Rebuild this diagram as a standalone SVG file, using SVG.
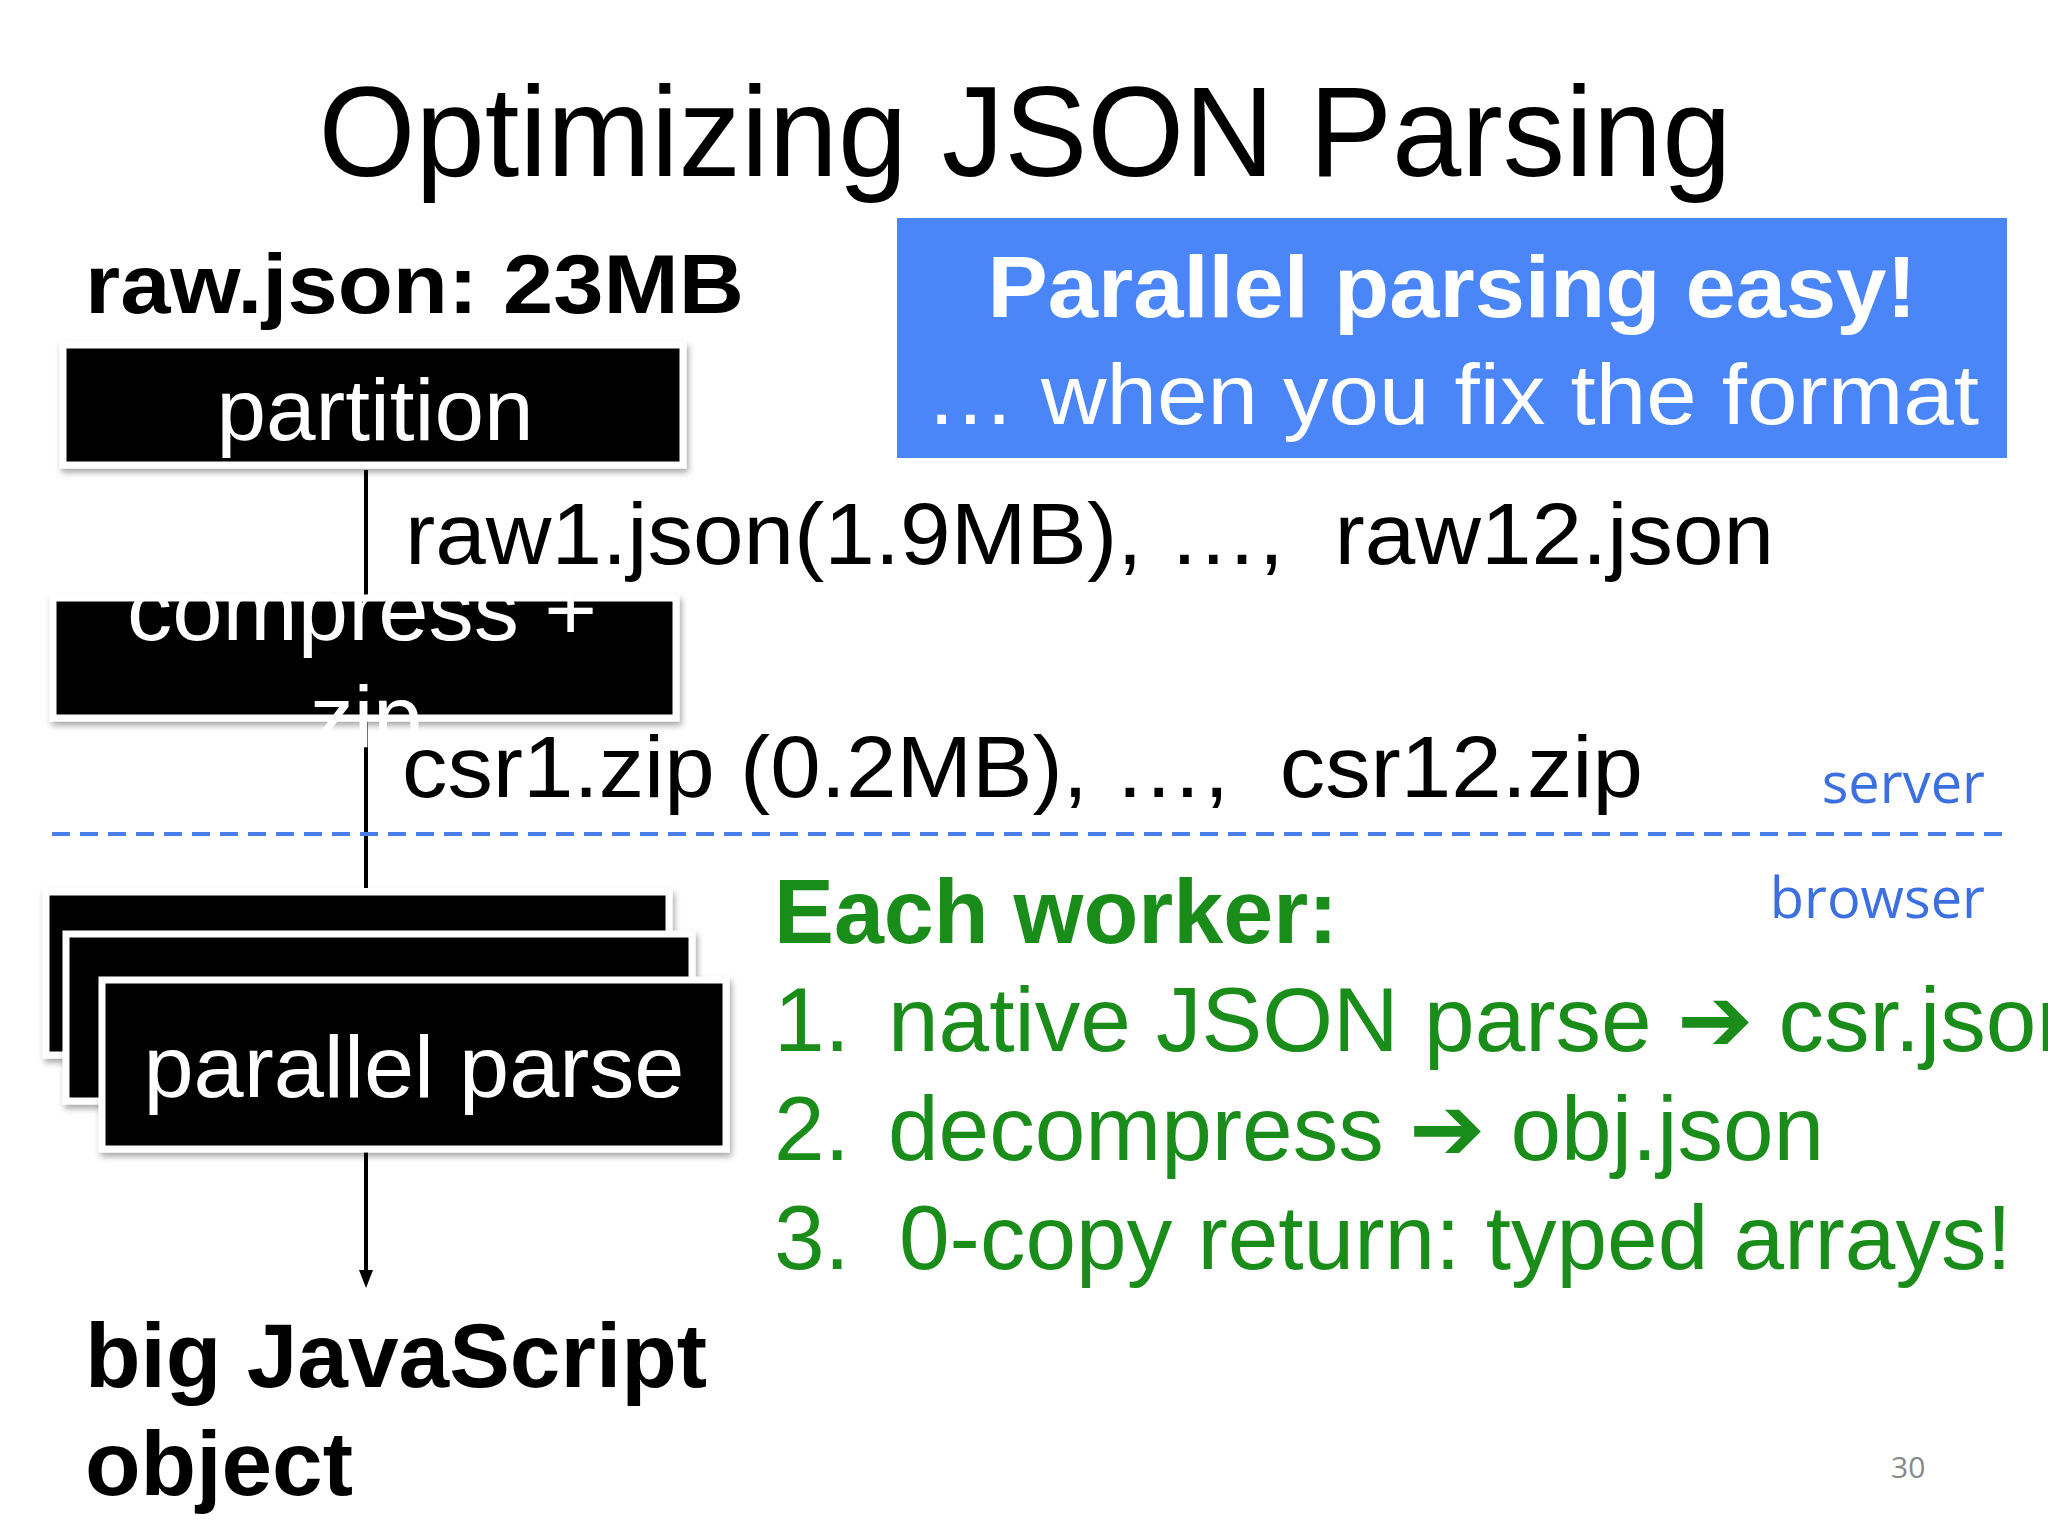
<svg xmlns="http://www.w3.org/2000/svg" width="2048" height="1536" viewBox="0 0 2048 1536">
<style>
.t{font-family:"Liberation Sans",Arial,sans-serif;white-space:pre}
.box{fill:#000;stroke:#fff;stroke-width:7;filter:url(#sh)}
.w{fill:#fff;font-size:88px;text-anchor:middle}
.g{fill:#1a8c1a;font-size:91px}
.b{fill:#3c6fe0;font-family:"Open Sans",sans-serif;font-size:56px;text-anchor:end}
</style>
<defs>
<filter id="sh" x="-5%" y="-10%" width="115%" height="130%"><feDropShadow dx="2" dy="4" stdDeviation="3" flood-color="#000" flood-opacity="0.35"/></filter>
</defs>
<rect width="2048" height="1536" fill="#fff"/>
<text class="t" x="1025" y="176" font-size="128" text-anchor="middle" textLength="1413" lengthAdjust="spacingAndGlyphs">Optimizing JSON Parsing</text>
<text class="t" x="85" y="313" font-size="84" font-weight="bold" textLength="659" lengthAdjust="spacingAndGlyphs">raw.json: 23MB</text>
<g id="connectors" stroke="#000" stroke-width="4">
<line x1="366" y1="470" x2="366" y2="888"/>
<line x1="366" y1="1152" x2="366" y2="1272"/>
<path d="M359,1270 L373,1270 L366,1288 Z" fill="#000" stroke="none"/>
</g>
<line x1="52" y1="834" x2="2005" y2="834" stroke="#4a7fe8" stroke-width="4" stroke-dasharray="18,10"/>
<g id="partition"><rect class="box" x="63" y="345" width="620" height="120"/><text class="t w" x="375" y="440" textLength="317" lengthAdjust="spacingAndGlyphs">partition</text></g>
<g id="blue"><rect x="897" y="218" width="1110" height="240" fill="#4a86f7"/>
<text class="t" x="1452" y="317" font-size="88" font-weight="bold" fill="#fff" text-anchor="middle" textLength="929" lengthAdjust="spacingAndGlyphs">Parallel parsing easy!</text>
<text class="t" x="1452" y="424" font-size="86" fill="#fff" text-anchor="middle" textLength="1054" lengthAdjust="spacingAndGlyphs">… when you fix the format</text></g>
<text class="t" x="405" y="564" font-size="88" textLength="1369" lengthAdjust="spacingAndGlyphs" xml:space="preserve">raw1.json(1.9MB), …,  raw12.json</text>
<g id="compress"><rect class="box" x="53" y="598" width="623" height="120"/><text class="t w" x="362" y="640" textLength="470" lengthAdjust="spacingAndGlyphs">compress +</text><text class="t w" x="366" y="747">zip</text></g>
<text class="t" x="402" y="797" font-size="88" textLength="1241" lengthAdjust="spacingAndGlyphs" xml:space="preserve">csr1.zip (0.2MB), …,  csr12.zip</text>
<text class="b" x="1985" y="803">server</text>
<text class="b" x="1985" y="918">browser</text>
<g id="parse">
<rect class="box" x="46" y="892" width="623" height="163"/>
<rect class="box" x="66" y="934" width="626" height="167"/>
<rect class="box" x="102" y="980" width="624" height="169"/>
<text class="t w" x="414" y="1097" textLength="541" lengthAdjust="spacingAndGlyphs">parallel parse</text></g>
<text class="t g" x="774" y="943" font-weight="bold" textLength="564" lengthAdjust="spacingAndGlyphs">Each worker:</text>
<text class="t g" x="774" y="1051">1.</text><text class="t g" x="888" y="1051">native JSON parse <tspan font-family="DejaVu Sans" font-weight="bold">➔</tspan> csr.json</text>
<text class="t g" x="774" y="1160">2.</text><text class="t g" x="888" y="1160">decompress <tspan font-family="DejaVu Sans" font-weight="bold">➔</tspan> obj.json</text>
<text class="t g" x="774" y="1269">3.</text><text class="t g" x="899" y="1269">0-copy return: typed arrays!</text>
<text class="t" x="85" y="1387" font-size="91" font-weight="bold">big JavaScript</text>
<text class="t" x="85" y="1495" font-size="91" font-weight="bold">object</text>
<text x="1891" y="1478" font-family="Open Sans,sans-serif" font-size="30" fill="#888">30</text>
</svg>
